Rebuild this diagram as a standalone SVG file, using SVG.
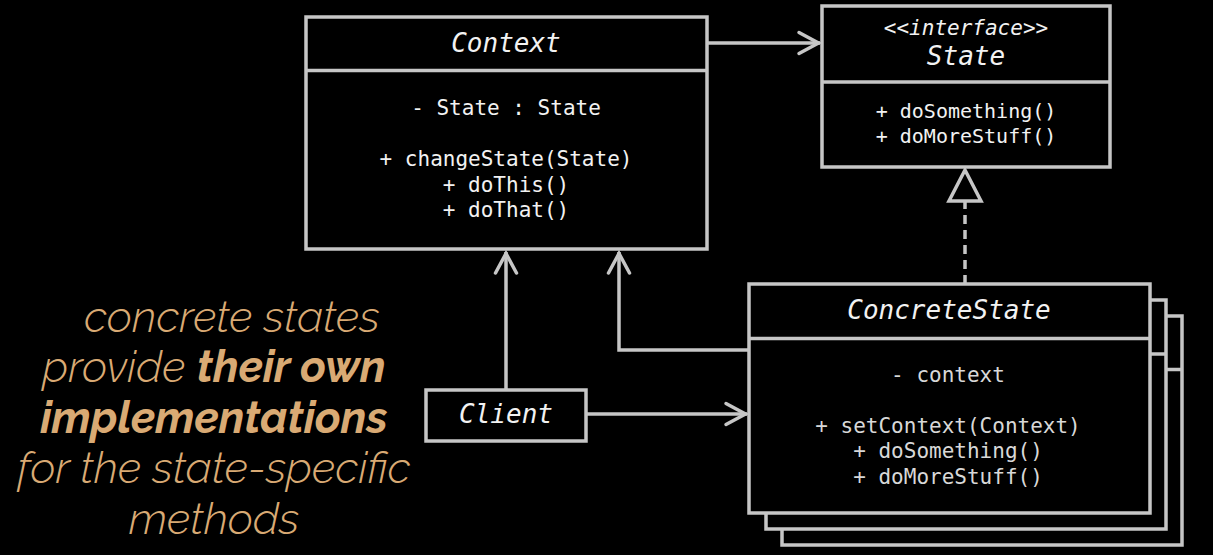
<svg xmlns="http://www.w3.org/2000/svg" width="1213" height="555" viewBox="0 0 1213 555">
<style>
.box{fill:#000;stroke:#c6c6c6;stroke-width:3.5}
.div{stroke:#c6c6c6;stroke-width:3.5}
.ttl{font-family:"DejaVu Sans Mono","Liberation Mono",monospace;font-style:italic;font-size:26px;fill:#f2f2f2;text-anchor:middle}
.mem{font-family:"DejaVu Sans Mono","Liberation Mono",monospace;font-size:21px;fill:#f2f2f2;text-anchor:middle}
.mem2{fill:#d8d8d8}
.sm{font-size:20px}
.ster{font-size:21px}
.con{fill:none;stroke:#c6c6c6;stroke-width:3.5}
.dash{stroke-dasharray:9 6}
.note{font-family:"Raleway","Lato","Noto Sans",sans-serif;font-style:italic;font-weight:300;font-size:44px;fill:#d9aa74;text-anchor:middle}
.b{font-weight:700}
</style>
<defs>
<marker id="open" markerUnits="userSpaceOnUse" viewBox="-26 -14 30 28" refX="0" refY="0" markerWidth="30" markerHeight="28" orient="auto">
<path d="M-21,-10.5 L-1.5,0 L-21,10.5" fill="none" stroke="#c6c6c6" stroke-width="3.5" stroke-linecap="round"/>
</marker>
<marker id="tri" markerUnits="userSpaceOnUse" viewBox="-36 -20 40 40" refX="0" refY="0" markerWidth="40" markerHeight="40" orient="auto">
<path d="M-1,0 L-32,-16 L-32,16 Z" fill="#000" stroke="#c6c6c6" stroke-width="3.5" stroke-linejoin="miter"/>
</marker>
</defs>
<rect x="0" y="0" width="1213" height="555" fill="#000"/>

<g id="connectors">
<path class="con" d="M708,43 H820" marker-end="url(#open)"/>
<path class="con" d="M506,390 V252" marker-end="url(#open)"/>
<path class="con" d="M749,350 H619 V252" marker-end="url(#open)"/>
<path class="con" d="M586,414 H747" marker-end="url(#open)"/>
<path class="con dash" d="M965,284 V169" marker-end="url(#tri)"/>
</g>

<g id="context">
<rect class="box" x="306" y="17" width="401" height="232"/>
<line class="div" x1="306" y1="70.5" x2="707" y2="70.5"/>
<text class="ttl" x="506" y="52">Context</text>
<text class="mem" x="506" y="115">- State : State</text>
<text class="mem" x="506" y="166">+ changeState(State)</text>
<text class="mem" x="506" y="191.5">+ doThis()</text>
<text class="mem" x="506" y="217">+ doThat()</text>
</g>

<g id="state">
<rect class="box" x="822" y="6" width="288" height="161"/>
<line class="div" x1="822" y1="82" x2="1110" y2="82"/>
<text class="ttl ster" x="966" y="35">&lt;&lt;interface&gt;&gt;</text>
<text class="ttl" x="966" y="65">State</text>
<text class="mem sm" x="966" y="118">+ doSomething()</text>
<text class="mem sm" x="966" y="142.5">+ doMoreStuff()</text>
</g>

<g id="concrete-state">
<rect class="box" x="782" y="316" width="400" height="229"/>
<line class="div" x1="782" y1="369.5" x2="1182" y2="369.5"/>
<rect class="box" x="766" y="300" width="400" height="229"/>
<line class="div" x1="766" y1="354" x2="1166" y2="354"/>
<rect class="box" x="749" y="284" width="401" height="229"/>
<line class="div" x1="749" y1="338.5" x2="1150" y2="338.5"/>
<text class="ttl" x="949" y="319">ConcreteState</text>
<text class="mem mem2" x="948" y="382">- context</text>
<text class="mem mem2" x="948" y="433">+ setContext(Context)</text>
<text class="mem mem2" x="948" y="458">+ doSomething()</text>
<text class="mem mem2" x="948" y="483.5">+ doMoreStuff()</text>
</g>

<g id="client">
<rect class="box" x="426" y="390" width="160" height="51"/>
<text class="ttl" x="506" y="423">Client</text>
</g>

<g id="note">
<text class="note" x="232" y="332">concrete states</text>
<text class="note" x="214" y="382">provide <tspan class="b">their own</tspan></text>
<text class="note b" x="214" y="433">implementations</text>
<text class="note" x="214" y="483">for the state-specific</text>
<text class="note" x="214" y="534">methods</text>
</g>
</svg>
